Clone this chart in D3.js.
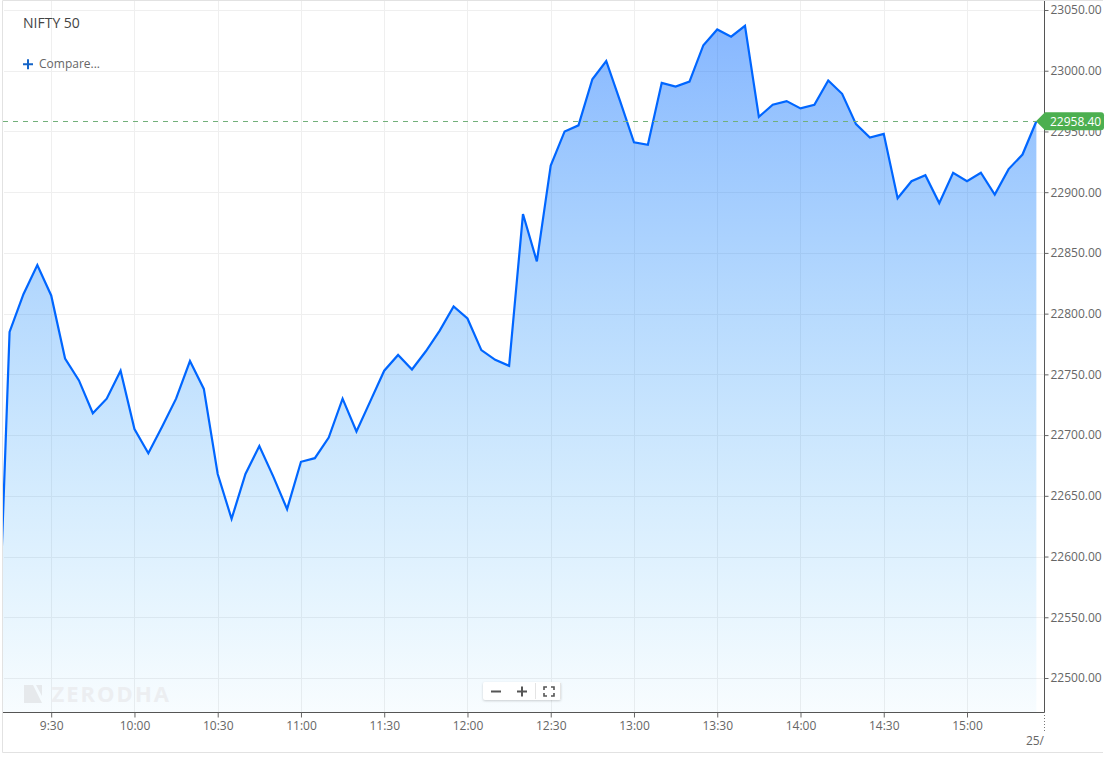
<!DOCTYPE html>
<html>
<head>
<meta charset="utf-8">
<script src="https://cdn.jsdelivr.net/npm/d3@7"></script>
<style>
    html, body { margin: 0; padding: 0; background: #fff; }
    text { font-family: "Open Sans", sans-serif; }
</style>
</head>
<body>
<div id="chart"></div>
<script>

var times = ["9:10","9:15","9:20","9:25","9:30","9:35","9:40","9:45","9:50","9:55",
    "10:00","10:05","10:10","10:15","10:20","10:25","10:30","10:35","10:40","10:45","10:50","10:55",
    "11:00","11:05","11:10","11:15","11:20","11:25","11:30","11:35","11:40","11:45","11:50","11:55",
    "12:00","12:05","12:10","12:15","12:20","12:25","12:30","12:35","12:40","12:45","12:50","12:55",
    "13:00","13:05","13:10","13:15","13:20","13:25","13:30","13:35","13:40","13:45","13:50","13:55",
    "14:00","14:05","14:10","14:15","14:20","14:25","14:30","14:35","14:40","14:45","14:50","14:55",
    "15:00","15:05","15:10","15:15","15:20","15:25"];

var prices = [22465,22785,22816,22840,22815,22763,22745,22718,22730,22753,
    22705,22685,22707,22730,22761,22738,22668,22631,22668,22691,22666,22639,
    22678,22681,22698,22730,22703,22728,22753,22766,22754,22769,22786,22806,
    22796,22770,22762,22757,22882,22843,22922,22950,22955,22993,23008,22975,
    22941,22939,22990,22987,22991,23021,23034,23028,23037,22962,22972,22975,
    22969,22972,22992,22981,22956,22945,22948,22895,22909,22914,22891,22916,
    22909,22916,22898,22919,22931,22958.4];

var time_ticks = ["9:30","10:00","10:30","11:00","11:30","12:00","12:30","13:00","13:30","14:00","14:30","15:00"];
var price_ticks = [22500,22550,22600,22650,22700,22750,22800,22850,22900,22950,23000,23050];
var last_price = 22958.40;
var chart_title = "NIFTY 50";

const width = 1107, height = 757;
const plot = {left: 3, right: 1044, top: 1, bottom: 712};

var parseTime = d3.timeParse("%H:%M");
var fmtTime = d3.timeFormat("%-H:%M");

var df = times.map(function (t, i) {
    return {time: parseTime(t), price: prices[i]};
});

var xScale = d3.scaleTime()
    .domain([parseTime("9:30"), parseTime("15:00")])
    .range([51.2, 967]);

var yScale = d3.scaleLinear()
    .domain([22500, 23050])
    .range([678, 10]);

const svg = d3.select("#chart")
    .append("svg")
    .attr("width", width)
    .attr("height", height)
    .style("display", "block");

var defs = svg.append("defs");

defs.append("clipPath")
    .attr("id", "plot-clip")
    .append("rect")
    .attr("x", plot.left)
    .attr("y", plot.top)
    .attr("width", plot.right - plot.left)
    .attr("height", plot.bottom - plot.top);

var grad = defs.append("linearGradient")
    .attr("id", "area-fill")
    .attr("gradientUnits", "userSpaceOnUse")
    .attr("x1", 0).attr("x2", 0)
    .attr("y1", yScale(d3.max(prices))).attr("y2", plot.bottom);
grad.append("stop").attr("offset", "0%").attr("stop-color", "#0066ff").attr("stop-opacity", 0.47);
grad.append("stop").attr("offset", "100%").attr("stop-color", "#0aa0f5").attr("stop-opacity", 0.03);

// outer frame
svg.append("path")
    .attr("d", "M1103,0.5H2.5V752.5H1103")
    .style("fill", "none")
    .style("stroke", "#e2e2e2");

// grid
var grid = svg.append("g").attr("class", "grid");
grid.selectAll("line.h")
    .data(price_ticks)
    .enter()
    .append("line")
    .attr("class", "h")
    .attr("x1", plot.left + 1).attr("x2", plot.right)
    .attr("y1", function (d) { return Math.round(yScale(d)) + 0.5; })
    .attr("y2", function (d) { return Math.round(yScale(d)) + 0.5; })
    .style("stroke", "#efefef");
grid.selectAll("line.v")
    .data(time_ticks)
    .enter()
    .append("line")
    .attr("class", "v")
    .attr("y1", plot.top).attr("y2", plot.bottom)
    .attr("x1", function (d) { return Math.round(xScale(parseTime(d))) + 0.5; })
    .attr("x2", function (d) { return Math.round(xScale(parseTime(d))) + 0.5; })
    .style("stroke", "#efefef");

var area = d3.area()
    .x(function (d) { return xScale(d.time); })
    .y0(plot.bottom)
    .y1(function (d) { return yScale(d.price); });

var line = d3.line()
    .x(function (d) { return xScale(d.time); })
    .y(function (d) { return yScale(d.price); });

var marks = svg.append("g").attr("clip-path", "url(#plot-clip)");

marks.append("path")
    .datum(df)
    .attr("d", area)
    .style("fill", "url(#area-fill)");

// watermark
var mark = svg.append("g").attr("transform", "translate(24,685)");
mark.append("path")
    .attr("d", "M0 0H9L18 18H0Z M12 0H18V11Z")
    .style("fill", "#e6e9ec");
mark.append("text")
    .attr("x", 27.5).attr("y", 17)
    .style("font-size", "22px")
    .style("font-weight", 700)
    .style("letter-spacing", "2px")
    .style("fill", "#eceef1")
    .text("ZERODHA");

marks.append("path")
    .datum(df)
    .attr("d", line)
    .style("fill", "none")
    .style("stroke", "#0066ff")
    .style("stroke-width", 2.2)
    .style("stroke-linejoin", "miter");

// last price line
svg.append("line")
    .attr("x1", plot.left).attr("x2", plot.right - 8)
    .attr("y1", Math.round(yScale(last_price)) + 0.5)
    .attr("y2", Math.round(yScale(last_price)) + 0.5)
    .style("stroke", "#72b07a")
    .style("stroke-dasharray", "5,5");

// axes
var xAxis = d3.axisBottom(xScale)
    .tickValues(time_ticks.map(parseTime))
    .tickFormat(fmtTime)
    .tickSize(5)
    .tickPadding(4);

var yAxis = d3.axisRight(yScale)
    .tickValues(price_ticks)
    .tickFormat(d3.format(".2f"))
    .tickSize(4)
    .tickPadding(2);

var gx = svg.append("g")
    .attr("class", "x-axis")
    .attr("transform", "translate(0," + (plot.bottom + 0.5) + ")")
    .call(xAxis);

var gy = svg.append("g")
    .attr("class", "y-axis")
    .attr("transform", "translate(" + (plot.right + 0.5) + ",0)")
    .call(yAxis);

gx.select(".domain").attr("d", "M" + plot.left + ",0H" + (plot.right + 1)).style("stroke", "#555");
gy.select(".domain").attr("d", "M0," + plot.top + "V" + plot.bottom).style("stroke", "#555");
gx.selectAll(".tick line").style("stroke", "#666");
gy.selectAll(".tick line").style("stroke", "#666");
gx.selectAll("text").style("font-size", "12px").style("fill", "#666");
gy.selectAll("text").style("font-size", "12px").style("fill", "#666");

// next-day marker, cut off by the axis
svg.append("line")
    .attr("x1", plot.right + 0.5).attr("x2", plot.right + 0.5)
    .attr("y1", plot.bottom).attr("y2", 732)
    .style("stroke", "#777")
    .style("stroke-dasharray", "1,2");
svg.append("text")
    .attr("x", plot.right).attr("y", 745)
    .attr("text-anchor", "end")
    .style("font-size", "12px")
    .style("fill", "#666")
    .text("25/");

// last price tag
var yLast = yScale(last_price);
var tag = svg.append("g").attr("transform", "translate(0," + yLast + ")");
tag.append("path")
    .attr("d", "M1036,0 L1045,-9 H1101 Q1104,-9 1104,-6 V6 Q1104,9 1101,9 H1045 Z")
    .style("fill", "#4caf50");
tag.append("text")
    .attr("x", 1050).attr("y", 4.5)
    .style("font-size", "12px")
    .style("fill", "#fff")
    .text(d3.format(".2f")(last_price));

// title and compare
svg.append("text")
    .attr("x", 23).attr("y", 28)
    .style("font-size", "14px")
    .style("fill", "#444")
    .text(chart_title);
svg.append("path")
    .attr("d", "M23 64.3H33M28 59.3V69.3")
    .style("stroke", "#1464c8")
    .style("stroke-width", 2)
    .style("fill", "none");
svg.append("text")
    .attr("x", 39).attr("y", 68)
    .style("font-size", "12px")
    .style("fill", "#666")
    .text("Compare...");

// zoom controls
var zoomBox = svg.append("g").attr("transform", "translate(483,682)");
zoomBox.append("rect")
    .attr("width", 78).attr("height", 18).attr("rx", 2)
    .style("fill", "#fff")
    .style("filter", "drop-shadow(0 1px 1px rgba(0,0,0,.18))");
zoomBox.append("path")
    .attr("d", "M8 9.5H18M34 9.5H44M39 4.5V14.5")
    .style("stroke", "#555").style("stroke-width", 2).style("fill", "none");
zoomBox.append("path")
    .attr("d", "M52.5 1V17M77.5 1V17")
    .style("stroke", "#e4e4e4").style("fill", "none");
zoomBox.append("path")
    .attr("d", "M61 8V5H64M68 5H71V8M71 11V14H68M64 14H61V11")
    .style("stroke", "#555").style("stroke-width", 1.6).style("fill", "none");

</script>
</body>
</html>
